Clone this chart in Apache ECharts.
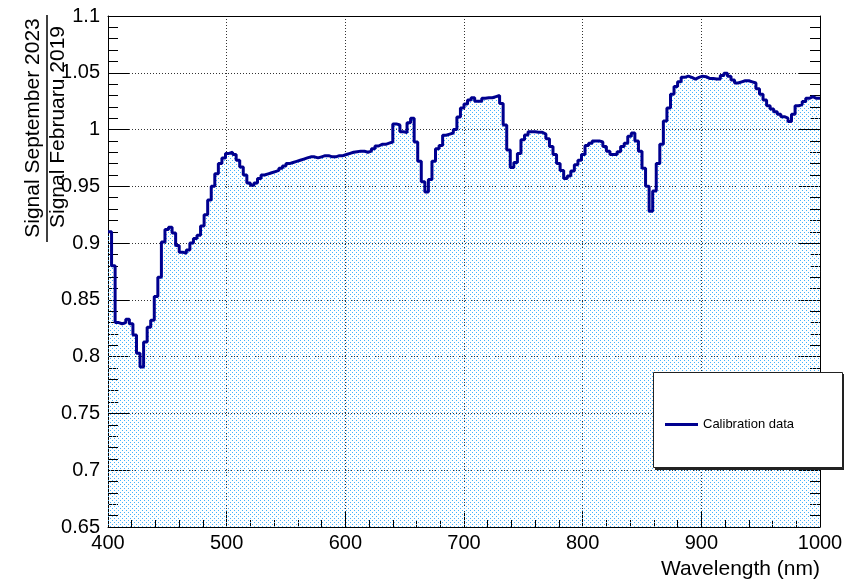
<!DOCTYPE html>
<html>
<head>
<meta charset="utf-8">
<script src="https://cdn.jsdelivr.net/npm/echarts@6/dist/echarts.min.js"></script>
<style>
  html,body{margin:0;padding:0;background:#fff;}
  #chart{width:844px;height:581px;}
</style>
</head>
<body>
<div id="chart"></div>
<script>
// histogram: 3 nm bins from 400 to 1000 nm
const binStart = 400
const binWidth = 3
const binEnd = 1000

// ratio Sep 2023 / Feb 2019, one value per bin
const ratio = [
  0.910, 0.880, 0.830, 0.829, 0.830, 0.833, 0.829, 0.819, 0.803, 0.791,
  0.813, 0.826, 0.832, 0.853, 0.870, 0.901, 0.912, 0.914, 0.909, 0.898,
  0.892, 0.891, 0.894, 0.900, 0.904, 0.907, 0.915, 0.925, 0.938, 0.950,
  0.961, 0.970, 0.975, 0.979, 0.980, 0.978, 0.973, 0.967, 0.960, 0.953,
  0.951, 0.953, 0.957, 0.960, 0.961, 0.962, 0.963, 0.964, 0.966, 0.968,
  0.970, 0.971, 0.972, 0.973, 0.974, 0.975, 0.976, 0.976, 0.975, 0.976,
  0.977, 0.977, 0.976, 0.976, 0.977, 0.977, 0.978, 0.979, 0.980, 0.9805,
  0.981, 0.981, 0.980, 0.981, 0.983, 0.9855, 0.987, 0.987, 0.988, 0.989,
  1.005, 1.004, 0.998, 0.9975, 1.006, 1.010, 0.989, 0.972, 0.954, 0.945,
  0.956, 0.972, 0.983, 0.986, 0.995, 0.996, 0.997, 1.000, 1.011, 1.019,
  1.0225, 1.026, 1.028, 1.025, 1.025, 1.0275, 1.028, 1.028, 1.029, 1.030,
  1.023, 1.004, 0.982, 0.9665, 0.971, 0.979, 0.991, 0.9952, 0.998, 0.998,
  0.9976, 0.9976, 0.996, 0.992, 0.985, 0.978, 0.970, 0.964, 0.957, 0.959,
  0.9635, 0.969, 0.973, 0.978, 0.986, 0.988, 0.990, 0.990, 0.989, 0.985,
  0.981, 0.978, 0.978, 0.9805, 0.985, 0.988, 0.994, 0.997, 0.990, 0.981,
  0.966, 0.950, 0.928, 0.946, 0.970, 0.987, 1.0075, 1.019, 1.031, 1.038,
  1.042, 1.046, 1.047, 1.046, 1.0445, 1.046, 1.047, 1.0466, 1.045, 1.045,
  1.0445, 1.0445, 1.0475, 1.0495, 1.047, 1.0436, 1.041, 1.042, 1.043, 1.043,
  1.042, 1.041, 1.036, 1.031, 1.026, 1.021, 1.018, 1.0157, 1.0134, 1.0113,
  1.010, 1.007, 1.0134, 1.021, 1.022, 1.0246, 1.0275, 1.029, 1.0275, 1.0275
]

const yMin = 0.65
const yMax = 1.1

const font = 'Liberation Sans, Arial, Helvetica, sans-serif'
const lineColor = '#00008f'

// dotted fill like ROOT's fill pattern
function dotPattern(){
  const c = document.createElement('canvas')
  c.width = 4; c.height = 4
  const ctx = c.getContext('2d')
  ctx.fillStyle = '#45b2fa'
  ctx.fillRect(0,0,1,1)
  ctx.fillRect(2,2,1,1)
  return c
}

// step points at bin low edges, closed at the last bin's upper edge
const points = []
ratio.forEach((v,i)=>{ points.push([binStart + i*binWidth, v]) })
points.push([binEnd, ratio[ratio.length-1]])

const myChart = echarts.init(document.querySelector('#chart'))
const option = {
  animation:false,
  backgroundColor:'#fff',
  grid:{left:108, right:24, top:16, bottom:54, outerBoundsMode:'none', containLabel:false},
  xAxis:[{
    type:'value',
    min:400, max:1000, interval:100,
    axisLine:{lineStyle:{color:'#000', width:1}},
    axisTick:{inside:true, length:15, lineStyle:{color:'#000'}},
    minorTick:{show:true, splitNumber:5, length:7, lineStyle:{color:'#000'}},
    axisLabel:{fontSize:20, color:'#000', fontFamily:font, margin:6,
      formatter:v=>String(v)},
    splitLine:{show:true, lineStyle:{color:'#333', type:[1,2], width:1}}
  },{
    type:'value', position:'top',
    min:400, max:1000, interval:100,
    axisLine:{show:true, lineStyle:{color:'#000'}},
    axisTick:{show:false}, axisLabel:{show:false}, splitLine:{show:false}
  }],
  yAxis:[{
    type:'value',
    min:yMin, max:yMax, interval:0.05,
    axisLine:{show:true, lineStyle:{color:'#000', width:1}},
    axisTick:{show:true, inside:true, length:21, lineStyle:{color:'#000'}},
    minorTick:{show:true, splitNumber:5, length:10, lineStyle:{color:'#000'}},
    axisLabel:{fontSize:20, color:'#000', fontFamily:font, margin:8,
      formatter:v=>String(+v.toFixed(2))},
    splitLine:{show:true, lineStyle:{color:'#333', type:[1,2], width:1}}
  },{
    type:'value', position:'right',
    min:yMin, max:yMax, interval:0.05,
    axisLine:{show:true, lineStyle:{color:'#000'}},
    axisTick:{show:true, inside:true, length:21, lineStyle:{color:'#000'}},
    minorTick:{show:true, splitNumber:5, length:10, lineStyle:{color:'#000'}},
    axisLabel:{show:false}, splitLine:{show:false}
  }],
  legend:{
    z:60,
    left:660, top:413,
    icon:'rect', itemWidth:33, itemHeight:3,
    textStyle:{fontSize:13, color:'#000', fontFamily:font},
    data:['Calibration data']
  },
  series:[{
    name:'Calibration data',
    type:'line',
    step:'end',
    data:points,
    showSymbol:false,
    symbol:'none',
    lineStyle:{color:lineColor, width:3},
    itemStyle:{color:lineColor},
    areaStyle:{origin:'start', color:{image:dotPattern(), repeat:'repeat'}, opacity:1}
  }],
  graphic:[
    {type:'rect', z:49, shape:{x:655, y:374, width:190, height:96}, style:{fill:'#222'}},
    {type:'rect', z:50, shape:{x:653.5, y:372.5, width:189, height:95}, style:{fill:'#fff', stroke:'#222', lineWidth:1}},
    {type:'text', x:33, y:128, rotation:Math.PI/2,
      style:{text:'Signal September 2023', fontSize:21, fontFamily:font, fill:'#000', align:'center', verticalAlign:'middle'}},
    {type:'line', shape:{x1:47, y1:15, x2:47, y2:242}, style:{stroke:'#000', lineWidth:1.5}},
    {type:'text', x:58, y:127, rotation:Math.PI/2,
      style:{text:'Signal Februaru 2019', fontSize:21, fontFamily:font, fill:'#000', align:'center', verticalAlign:'middle'}},
    {type:'text', x:820, y:569,
      style:{text:'Wavelength (nm)', fontSize:21, fontFamily:font, fill:'#000', align:'right', verticalAlign:'middle'}}
  ]
}
myChart.setOption(option)
</script>
</body>
</html>
